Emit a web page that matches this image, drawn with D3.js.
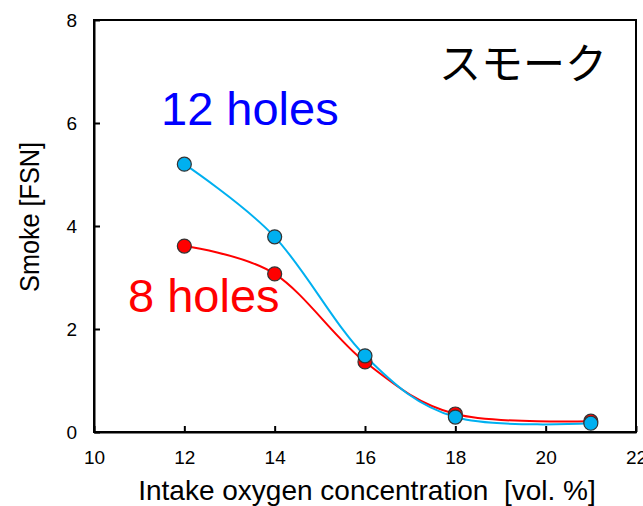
<!DOCTYPE html>
<html>
<head>
<meta charset="utf-8">
<script src="https://cdn.jsdelivr.net/npm/d3@7"></script>
<style>
  body { margin: 0; background: #fff; }
  text { font-family: "Liberation Sans", Arial, sans-serif; }
</style>
</head>
<body>
<div id="chart"></div>
<script>
// Datos
const oxygen = [12, 14, 16, 18, 21];
const smoke12 = [5.20, 3.79, 1.48, 0.29, 0.17];
const smoke8 = [3.61, 3.07, 1.36, 0.35, 0.21];
const xTicks = [10, 12, 14, 16, 18, 20, 22];
const yTicks = [0, 2, 4, 6, 8];

const width = 643, height = 506;
const margin = { top: 20, right: 7, bottom: 74, left: 94 };

const svg = d3.select('#chart').append('svg')
    .attr('width', width)
    .attr('height', height);

const x = d3.scaleLinear().domain([10, 22]).range([margin.left, width - margin.right]);
const y = d3.scaleLinear().domain([0, 8]).range([height - margin.bottom, margin.top]);

// Marco del área de trazado
svg.append('rect')
    .attr('x', x(10)).attr('y', y(8))
    .attr('width', x(22) - x(10)).attr('height', y(0) - y(8))
    .attr('fill', 'none').attr('stroke', '#000').attr('stroke-width', 2);

// Ejes con marcas hacia dentro
const xAxis = svg.append('g')
    .attr('transform', `translate(0,${y(0)})`)
    .call(d3.axisBottom(x).tickValues(xTicks).tickSizeInner(-6).tickSizeOuter(0).tickPadding(19));
const yAxis = svg.append('g')
    .attr('transform', `translate(${x(10)},0)`)
    .call(d3.axisLeft(y).tickValues(yTicks).tickSizeInner(-6).tickSizeOuter(0).tickPadding(17));

[xAxis, yAxis].forEach(g => {
    g.select('.domain').attr('stroke', '#000').attr('stroke-width', 2);
    g.selectAll('.tick line').attr('stroke', '#000').attr('stroke-width', 2);
    g.selectAll('.tick text').attr('fill', '#000').style('font-size', '19px');
});

// Títulos de los ejes
svg.append('text')
    .attr('x', 367).attr('y', 500)
    .attr('text-anchor', 'middle')
    .attr('xml:space', 'preserve')
    .style('white-space', 'pre')
    .style('font-size', '28px')
    .text('Intake oxygen concentration  [vol. %]');

svg.append('text')
    .attr('transform', `translate(39,217) rotate(-90) scale(0.9,1)`)
    .attr('text-anchor', 'middle')
    .style('font-size', '28px')
    .text('Smoke [FSN]');

// Líneas suavizadas
const line = d3.line()
    .x(d => x(d[0]))
    .y(d => y(d[1]))
    .curve(d3.curveCatmullRom.alpha(0));

const series = [
    { values: smoke8, color: '#ff0000' },
    { values: smoke12, color: '#00b0f0' }
];

series.forEach(s => {
    const pts = oxygen.map((o, i) => [o, s.values[i]]);
    svg.append('path')
        .datum(pts)
        .attr('fill', 'none')
        .attr('stroke', s.color)
        .attr('stroke-width', 2)
        .attr('d', line);
});

series.forEach(s => {
    const pts = oxygen.map((o, i) => [o, s.values[i]]);
    svg.selectAll(null)
        .data(pts)
        .enter().append('circle')
        .attr('cx', d => x(d[0]))
        .attr('cy', d => y(d[1]))
        .attr('r', 7)
        .attr('fill', s.color)
        .attr('stroke', '#333')
        .attr('stroke-width', 1.2);
});

// Etiquetas
svg.append('text')
    .attr('x', 161).attr('y', 125)
    .attr('fill', '#0000ff')
    .style('font-size', '47px')
    .text('12 holes');

svg.append('text')
    .attr('x', 128).attr('y', 312)
    .attr('fill', '#ff0000')
    .style('font-size', '47px')
    .text('8 holes');

svg.append('text')
    .attr('x', 439).attr('y', 79)
    .attr('fill', '#000')
    .style('font-family', '"Noto Sans CJK JP", sans-serif')
    .style('font-size', '42px')
    .text('スモーク');
</script>
</body>
</html>
